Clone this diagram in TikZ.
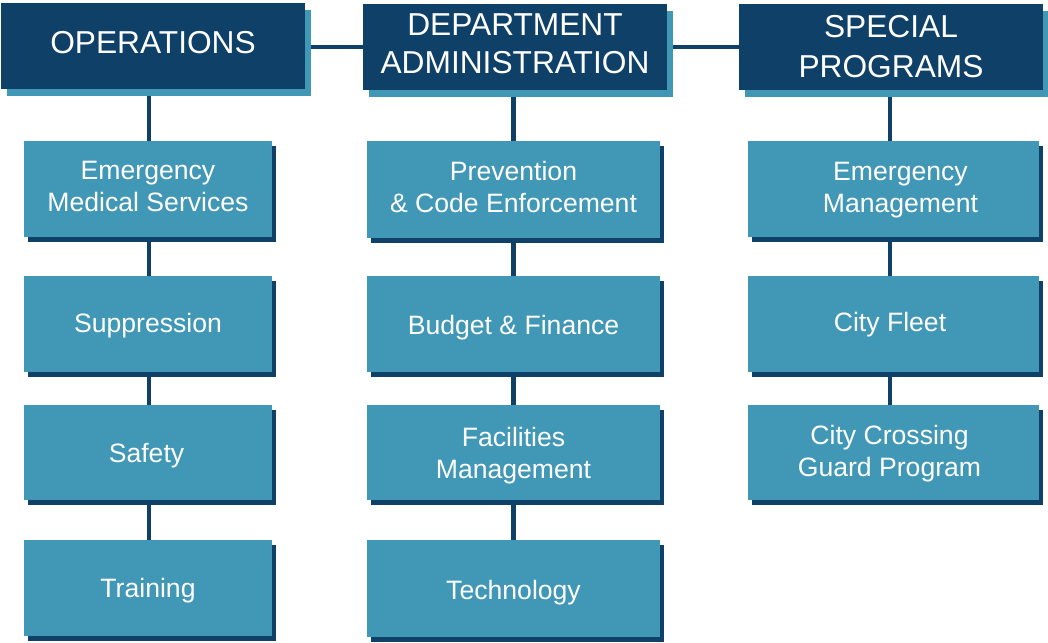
\documentclass[tikz,border=0pt]{standalone}
\usepackage{fontspec}
\setmainfont{Liberation Sans}
\usetikzlibrary{shadows,backgrounds}
\definecolor{navyc}{HTML}{0E4068}
\definecolor{bluec}{HTML}{4197B6}
\newcommand{\lowr}[2]{\raisebox{#1}[\height][\depth]{#2}}
\begin{document}
\begin{tikzpicture}[x=1pt,y=-1pt,
  head/.style={fill=navyc, text=white, inner sep=0pt, minimum width=304pt, minimum height=86pt, align=center,
    font=\fontsize{31.7}{40}\selectfont,
    general shadow={fill=bluec, shadow xshift=6pt, shadow yshift=-7pt}},
  unitA/.style={unitbox, minimum width=248pt},
  unitB/.style={unitbox, minimum width=293pt},
  unitC/.style={unitbox, minimum width=291pt},
  unitbox/.style={fill=bluec, text=white, inner sep=0pt, minimum height=96pt, align=center,
    font=\fontsize{26.6}{32}\selectfont,
    general shadow={fill=navyc, shadow xshift=4pt, shadow yshift=-5pt}},
  utext/.style={text=white, inner sep=0pt, align=center, font=\fontsize{26.6}{32}\selectfont},
  htext/.style={text=white, inner sep=0pt, align=center, font=\fontsize{31.7}{38.5}\selectfont},
  link/.style={draw=navyc, line width=4.8pt}]
\useasboundingbox (0,0) rectangle (1048,642);
% headers
\node[head] (op)   at (153,46) {\lowr{3pt}{OPERATIONS}};
\node[head] (dept) at (515,47) {};
\node[htext] (deptT) at ([yshift=3pt]dept.center) {DEPARTMENT\\ADMINISTRATION};
\node[head] (sp)   at (891,47) {SPECIAL\\PROGRAMS};
% column 1
\node[unitA] (ems) at (148,189)   {};
\node[utext] (emsT) at ([yshift=3pt]ems.center) {Emergency\\Medical Services};
\node[unitA] (sup) at (148,324)   {\lowr{-2pt}{Suppression}};
\node[unitA, minimum height=95pt] (saf) at (148,452.5) {\lowr{-3pt}{\hspace*{-3pt}Safety}};
\node[unitA] (tra) at (148,588)   {\lowr{-3pt}{Training}};
% column 2
\node[unitB, minimum height=97pt] (prev) at (513.5,189.5) {};
\node[utext] (prevT) at ([yshift=2.5pt]prev.center) {Prevention\\\& Code Enforcement};
\node[unitB] (bud)  at (513.5,324)   {\lowr{-3.5pt}{Budget \& Finance}};
\node[unitB, minimum height=95pt] (fac)  at (513.5,452.5) {};
\node[utext] (facT) at ([yshift=-3.5pt]fac.center) {Facilities\\Management};
\node[unitB, minimum height=97pt] (tech) at (513.5,588.5) {\lowr{-4.5pt}{Technology}};
% column 3
\node[unitC] (em)    at (893.5,189)   {};
\node[utext] (emT) at ([xshift=7pt,yshift=-1pt]em.center) {Emergency\\Management};
\node[unitC] (fleet) at (893.5,324)   {\lowr{-1pt}{\hspace*{-7pt}City Fleet}};
\node[unitC, minimum height=95pt] (cross) at (893.5,452.5) {};
\node[utext] (crossT) at ([xshift=-4pt,yshift=-1pt]cross.center) {City Crossing\\Guard Program};
% connectors
\begin{pgfonlayer}{background}
\draw[link] (op.east |- dept.west) -- (dept.west);
\draw[link] (dept.east) -- (sp.west);
\draw[link] ([xshift=1pt]ems.north) -- ([xshift=1pt]ems.north |- op.south);
\draw[link] ([xshift=1pt]ems.center) -- ([xshift=1pt]sup.center);
\draw[link] ([xshift=1pt]sup.center) -- ([xshift=1pt]saf.center);
\draw[link] ([xshift=1pt]saf.center) -- ([xshift=1pt]tra.center);
\draw[link] (prev.north) -- (prev.north |- dept.south);
\draw[link] (prev.center) -- (bud.center);
\draw[link] (bud.center) -- (fac.center);
\draw[link] (fac.center) -- (tech.center);
\draw[link] ([xshift=-3.5pt]em.north) -- ([xshift=-3.5pt]em.north |- sp.south);
\draw[link] ([xshift=-3.5pt]em.center) -- ([xshift=-3.5pt]fleet.center);
\draw[link] ([xshift=-3.5pt]fleet.center) -- ([xshift=-3.5pt]cross.center);
\end{pgfonlayer}
\end{tikzpicture}
\end{document}
